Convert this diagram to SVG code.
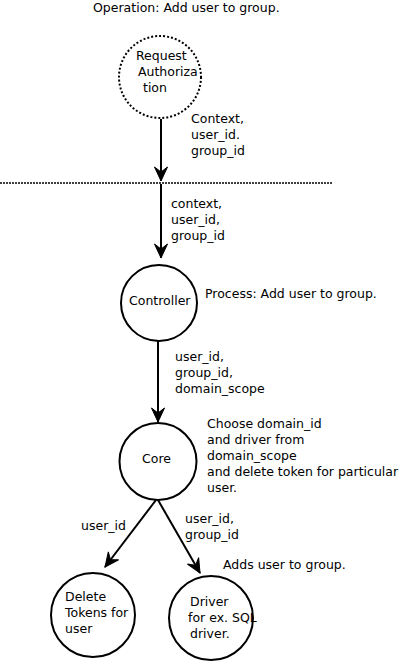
<svg xmlns="http://www.w3.org/2000/svg" width="405" height="661" viewBox="0 0 405 661">
<style>
text{font-family:"DejaVu Sans","Liberation Sans",sans-serif;font-size:12.5px;fill:#000}
.node{fill:#fff;stroke:#000;stroke-width:2}
.dotted{stroke-dasharray:2,2}
.edge{stroke:#000;stroke-width:2;fill:none;marker-end:url(#arr)}
</style>
<defs>
<marker id="arr" markerUnits="userSpaceOnUse" markerWidth="20" markerHeight="20" refX="0" refY="0" orient="auto" overflow="visible">
<path d="M0,0 L-14,-6.5 L-9,0 L-14,6.5 Z" fill="#000" stroke="#000" stroke-width="1" stroke-linejoin="miter"/>
</marker>
</defs>
<rect width="405" height="661" fill="#fff"/>
<text x="93" y="12">Operation: Add user to group.</text>
<line x1="0" y1="183" x2="333" y2="183" stroke="#000" stroke-width="1.5" stroke-dasharray="2,1"/>
<g id="connectors">
<line class="edge" x1="161" y1="119" x2="161" y2="181"/>
<line class="edge" x1="161" y1="184" x2="161" y2="258"/>
<line class="edge" x1="158" y1="341" x2="158" y2="422"/>
<line class="edge" x1="156" y1="500" x2="105" y2="567"/>
<line class="edge" x1="158" y1="500" x2="200" y2="573"/>
<text x="191" y="123">Context,<tspan x="191" dy="16">user_id.</tspan><tspan x="191" dy="16">group_id</tspan></text>
<text x="171" y="208">context,<tspan x="171" dy="16">user_id,</tspan><tspan x="171" dy="16">group_id</tspan></text>
<text x="175" y="361">user_id,<tspan x="175" dy="16">group_id,</tspan><tspan x="175" dy="16">domain_scope</tspan></text>
<text x="81" y="530">user_id</text>
<text x="185" y="523">user_id,<tspan x="185" dy="16">group_id</tspan></text>
</g>
<g id="request-authorization">
<circle class="node dotted" cx="160" cy="77" r="41"/>
<text x="136" y="60">Request<tspan x="138" dy="16">Authoriza</tspan><tspan x="143" dy="16">tion</tspan></text>
</g>
<g id="controller">
<circle class="node" cx="159" cy="303" r="38"/>
<text x="129" y="305">Controller</text>
<text x="205" y="298">Process: Add user to group.</text>
</g>
<g id="core">
<circle class="node" cx="158" cy="461.5" r="38.5"/>
<text x="142" y="463">Core</text>
<text x="207" y="428">Choose domain_id<tspan x="207" dy="16">and driver from</tspan><tspan x="207" dy="16">domain_scope</tspan><tspan x="207" dy="16">and delete token for particular</tspan><tspan x="207" dy="16">user.</tspan></text>
</g>
<g id="delete-tokens">
<circle class="node" cx="93" cy="615" r="42"/>
<text x="65" y="601">Delete<tspan x="65" dy="16">Tokens for</tspan><tspan x="65" dy="16">user</tspan></text>
</g>
<g id="driver">
<circle class="node" cx="211" cy="618" r="42"/>
<text x="190" y="606">Driver<tspan x="188" dy="16">for ex. SQL</tspan><tspan x="190" dy="16">driver.</tspan></text>
<text x="223" y="569">Adds user to group.</text>
</g>
</svg>
